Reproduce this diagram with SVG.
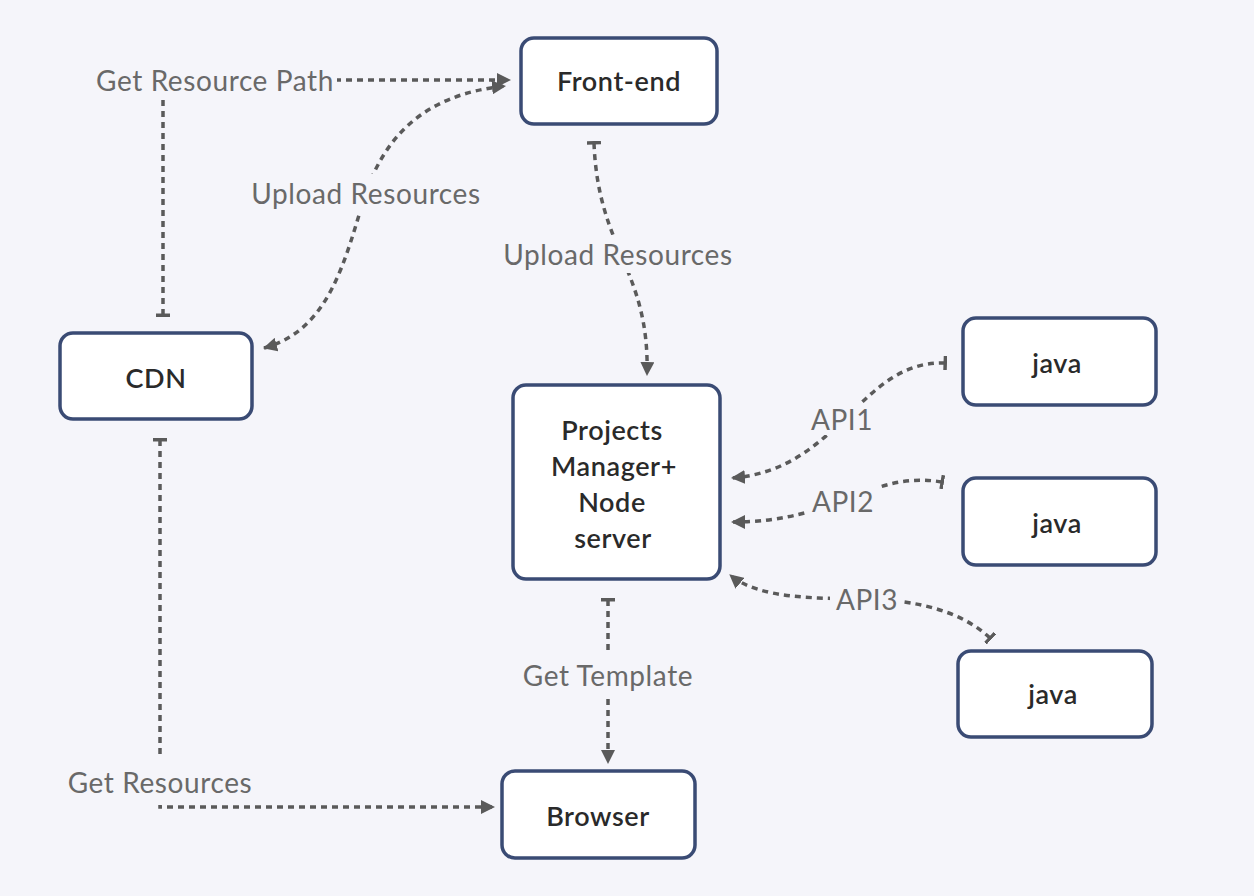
<svg xmlns="http://www.w3.org/2000/svg" width="1254" height="896" viewBox="0 0 1254 896">
<defs>
<style>
.node rect{fill:#ffffff;stroke:#3a4b74;stroke-width:3.5}
.node text{font-family:Lato,"Open Sans","Liberation Sans",sans-serif;font-size:27px;font-weight:600;letter-spacing:0.6px;fill:#2a2a2a;text-anchor:middle;dominant-baseline:central}
.edge{fill:none;stroke:#5a5a5a;stroke-width:3.5;stroke-dasharray:6 5}
.lbl text{font-family:Lato,"Open Sans","Liberation Sans",sans-serif;font-size:28px;letter-spacing:0.6px;fill:#696969;text-anchor:middle;dominant-baseline:central}
.lbl rect{fill:#f5f5fa}
</style>
<marker id="arrow" viewBox="0 0 14 14" refX="13" refY="7" markerWidth="14" markerHeight="14" markerUnits="userSpaceOnUse" orient="auto-start-reverse">
<path d="M0,0 L14,7 L0,14 Z" fill="#5a5a5a"/>
</marker>
<marker id="bar" viewBox="0 0 4 14" refX="2" refY="7" markerWidth="4" markerHeight="14" markerUnits="userSpaceOnUse" orient="auto">
<rect x="0" y="0" width="3.5" height="14" fill="#5a5a5a"/>
</marker>
</defs>
<rect x="0" y="0" width="1254" height="896" fill="#f5f5fa"/>
<g id="connectors">
<path class="edge" d="M163,315 V80 H510" marker-start="url(#bar)" marker-end="url(#arrow)"/>
<path class="edge" d="M264,348 C330,330 345,260 366,192 C385,140 420,95 505,86" marker-start="url(#arrow)" marker-end="url(#arrow)"/>
<path class="edge" d="M594,143 C598,250 650,270 647,375" marker-start="url(#bar)" marker-end="url(#arrow)"/>
<path class="edge" d="M945,363 C860,360 840,470 732,478" marker-start="url(#bar)" marker-end="url(#arrow)"/>
<path class="edge" d="M942,482 C870,470 840,522 732,522" marker-start="url(#bar)" marker-end="url(#arrow)"/>
<path class="edge" d="M990,638 C955,605 900,600 866,599 C820,598 760,600 730,575" marker-start="url(#bar)" marker-end="url(#arrow)"/>
<path class="edge" d="M608,600 V763" marker-start="url(#bar)" marker-end="url(#arrow)"/>
<path class="edge" d="M160,440 V807 H494" marker-start="url(#bar)" marker-end="url(#arrow)"/>
</g>
<g id="labels">
<g class="lbl"><rect x="93" y="62" width="244" height="38"/><text x="215" y="80">Get Resource Path</text></g>
<g class="lbl"><rect x="243" y="174" width="246" height="38"/><text x="366" y="193">Upload Resources</text></g>
<g class="lbl"><rect x="495" y="235" width="246" height="38"/><text x="618" y="254">Upload Resources</text></g>
<g class="lbl"><rect x="806" y="403" width="72" height="32"/><text x="842" y="419">API1</text></g>
<g class="lbl"><rect x="806" y="485" width="74" height="32"/><text x="843" y="501">API2</text></g>
<g class="lbl"><rect x="830" y="583" width="74" height="32"/><text x="867" y="599">API3</text></g>
<g class="lbl"><rect x="514" y="655" width="188" height="40"/><text x="608" y="675">Get Template</text></g>
<g class="lbl"><rect x="62" y="759" width="196" height="46"/><text x="160" y="782">Get Resources</text></g>
</g>
<g id="node-frontend" class="node"><rect x="521" y="38" width="196" height="86" rx="13"/><text x="619" y="80">Front-end</text></g>
<g id="node-cdn" class="node"><rect x="60" y="333" width="192" height="86" rx="13"/><text x="156" y="377">CDN</text></g>
<g id="node-projects" class="node"><rect x="513" y="385" width="207" height="194" rx="13"/><text x="612" y="429">Projects</text><text x="614" y="465">Manager+</text><text x="612" y="501">Node</text><text x="613" y="537">server</text></g>
<g id="node-java1" class="node"><rect x="963" y="318" width="193" height="87" rx="13"/><text x="1057" y="362">java</text></g>
<g id="node-java2" class="node"><rect x="963" y="478" width="193" height="87" rx="13"/><text x="1057" y="522">java</text></g>
<g id="node-java3" class="node"><rect x="958" y="651" width="194" height="86" rx="13"/><text x="1053" y="693">java</text></g>
<g id="node-browser" class="node"><rect x="502" y="771" width="193" height="87" rx="13"/><text x="598" y="815">Browser</text></g>
</svg>
